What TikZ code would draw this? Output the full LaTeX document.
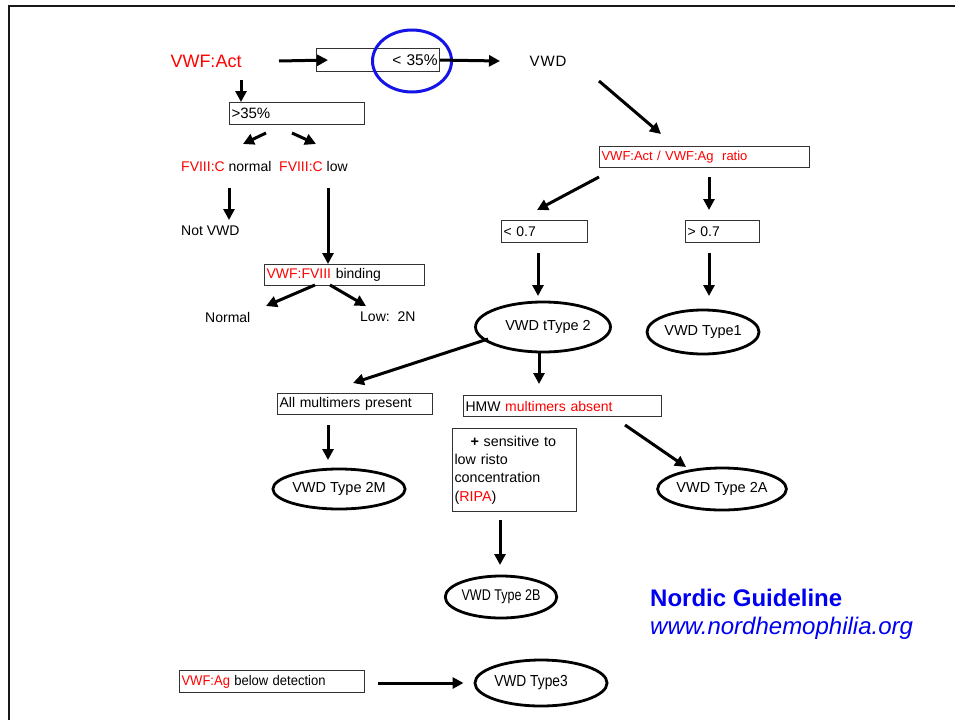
\documentclass[tikz,border=0pt]{standalone}
\usepackage{fontspec}
\setmainfont{Liberation Sans}
\usepackage{graphicx}
\usetikzlibrary{arrows.meta,shapes.geometric}
\definecolor{lred}{RGB}{255,0,0}
\definecolor{lblue}{RGB}{0,0,240}
\definecolor{rblue}{RGB}{20,20,230}
\begin{document}
\begin{tikzpicture}[x=1pt,y=-1pt,
  arr/.style={line width=3pt, -{Triangle[length=11pt,width=11pt]}},
  box/.style={draw=black!80, line width=1.1pt, anchor=north west, inner xsep=2pt, inner ysep=0pt, align=left, font=\fontsize{14pt}{17pt}\selectfont},
  oval/.style={ellipse, draw=black, line width=2.8pt, inner sep=0pt, font=\fontsize{14.5pt}{17pt}\selectfont},
  lbl/.style={anchor=west, inner sep=0pt, font=\fontsize{14pt}{17pt}\selectfont},
]
\useasboundingbox (0,0) rectangle (955,720);
\fill[white] (0,0) rectangle (955,720);
% frame
\draw[line width=2pt, black!90] (9,720) -- (9,6) -- (955,6);

% top row
\node[inner sep=0pt, text=lred, font=\fontsize{18pt}{20pt}\selectfont] (act) at (206,61) {VWF:Act};
\node[box, text width=119pt, minimum height=23pt, align=right, font=\fontsize{15.5pt}{17pt}\selectfont] (lt35) at (316,48) {< 35\%};
\node[ellipse, draw=rblue, line width=3pt, minimum width=79pt, minimum height=62pt, inner sep=0pt] (hl) at (412,61) {};
\node[inner sep=0pt, font=\fontsize{15pt}{17pt}\selectfont] (vwd) at (548,61) {V\kern1pt W\kern1pt D};

\coordinate (a1s) at (279,61);
\draw[arr] (a1s) -- ([xshift=12pt]lt35.west);
\coordinate (a2e) at (500,61);
\draw[arr] (lt35.east) -- (a2e);

% left branch
\node[box, text width=131pt, minimum height=22pt, font=\fontsize{15pt}{17pt}\selectfont] (gt35) at (229,102) {>35\%};
\coordinate (a3s) at (241,80);
\draw[arr] (a3s) -- ([xshift=12pt]gt35.north west);
\coordinate (a4s) at (266,133); \coordinate (a4e) at (243,144);
\draw[arr] (a4s) -- (a4e);
\coordinate (a5s) at (292,133); \coordinate (a5e) at (316,144);
\draw[arr] (a5s) -- (a5e);

\node[lbl] (fn) at (181,166) {\textcolor{lred}{FVIII:C} normal};
\node[lbl] (fl) at (279,166) {\textcolor{lred}{FVIII:C} low};
\node[lbl] (nv) at (181,231) {Not VWD};
\coordinate (a6s) at (229,188); \coordinate (a6e) at (229,220);
\draw[arr] (a6s) -- (a6e);
\coordinate (a7s) at (328,188);
\node[box, text width=156pt, minimum height=21pt] (bind) at (264,264) {\textcolor{lred}{VWF:FVIII} binding};
\draw[arr] (a7s) -- (bind.north west -| a7s);
\node[lbl] (nor) at (205,317) {Normal};
\node[lbl] (low) at (360,317) {Low:\ \ 2N};
\coordinate (a8s) at (315,285); \coordinate (a8e) at (266,306);
\draw[arr] (a8s) -- (a8e);
\coordinate (a9s) at (330,285); \coordinate (a9e) at (366,306);
\draw[arr] (a9s) -- (a9e);

% right branch
\coordinate (b1s) at (599,81); \coordinate (b1e) at (661,134);
\draw[arr] (b1s) -- (b1e);
\node[box, text width=206pt, minimum height=21pt, font=\fontsize{13pt}{15pt}\selectfont] (ratio) at (599,146) {\textcolor{lred}{VWF:Act / VWF:Ag\ \ ratio}};
\node[box, text width=82pt, minimum height=22pt] (lt07) at (501,220) {< 0.7};
\node[box, text width=70pt, minimum height=22pt] (gt07) at (685,220) {> 0.7};
\coordinate (b2s) at (599,177); \coordinate (b2e) at (537,210);
\draw[arr] (b2s) -- (b2e);
\coordinate (b3s) at (709,177); \coordinate (b3e) at (709,210);
\draw[arr] (b3s) -- (b3e);

\node[oval, minimum width=113pt, minimum height=50pt] (t2) at (543,327) {\hspace*{10pt}VWD tType 2};
\node[oval, minimum width=112pt, minimum height=44pt] (t1) at (703,332) {VWD Type1};
\coordinate (b4s) at (538,253); \coordinate (b4e) at (538,296);
\draw[arr] (b4s) -- (b4e);
\coordinate (b5s) at (709,253); \coordinate (b5e) at (709,296);
\draw[arr] (b5s) -- (b5e);

% type 2 split
\node[box, text width=151pt, minimum height=21pt] (allm) at (277,393) {All multimers\ present};
\node[box, text width=194pt, minimum height=21pt] (hmw) at (463,395) {HMW \textcolor{lred}{multimers\ absent}};
\coordinate (c1s) at (488,339); \coordinate (c1e) at (353,383);
\draw[arr] (c1s) -- (c1e);
\coordinate (c2s) at (539,351); \coordinate (c2e) at (539,384);
\draw[arr] (c2s) -- (c2e);

\node[box, text width=120pt, minimum height=83pt, font=\fontsize{14.3pt}{18.3pt}\selectfont] (sens) at (452,428) {\hspace*{16pt}\textbf{+} sensitive to\\low risto\\concentration\\(\textcolor{lred}{RIPA})};

\node[oval, minimum width=124pt, minimum height=40pt] (t2m) at (339,489) {VWD Type 2M};
\node[oval, minimum width=122pt, minimum height=42pt] (t2a) at (722,489) {VWD Type 2A};
\node[oval, minimum width=102pt, minimum height=42pt, font=\fontsize{15.5pt}{17pt}\selectfont] (t2b) at (501,597) {\scalebox{0.81}[1]{VWD Type 2B}};
\coordinate (c3s) at (328,425); \coordinate (c3e) at (328,460);
\draw[arr] (c3s) -- (c3e);
\coordinate (c4s) at (625,425); \coordinate (c4e) at (686,467);
\draw[arr] (c4s) -- (c4e);
\coordinate (c5s) at (500,520); \coordinate (c5e) at (500,565);
\draw[arr] (c5s) -- (c5e);

% type 3
\node[box, text width=181pt, minimum height=22pt] (ag) at (179,670) {\scalebox{0.93}[1]{\textcolor{lred}{VWF:Ag} below detection}};
\node[oval, minimum width=132pt, minimum height=46pt, font=\fontsize{16pt}{18pt}\selectfont] (t3) at (541,683) {\scalebox{0.86}[1]{VWD Type3}\hspace*{20pt}};
\coordinate (d1s) at (378,683);
\draw[arr] (d1s) -- ([xshift=-10pt]t3.west);

% credit
\node[anchor=west, inner sep=0pt, text=lblue, font=\fontsize{24pt}{26pt}\selectfont\bfseries] (nordic) at (650,598) {Nordic Guideline};
\node[anchor=west, inner sep=0pt, text=lblue, font=\fontsize{24pt}{26pt}\selectfont\itshape] (www) at (650,628) {www.nordhemophilia.org};
\end{tikzpicture}
\end{document}
